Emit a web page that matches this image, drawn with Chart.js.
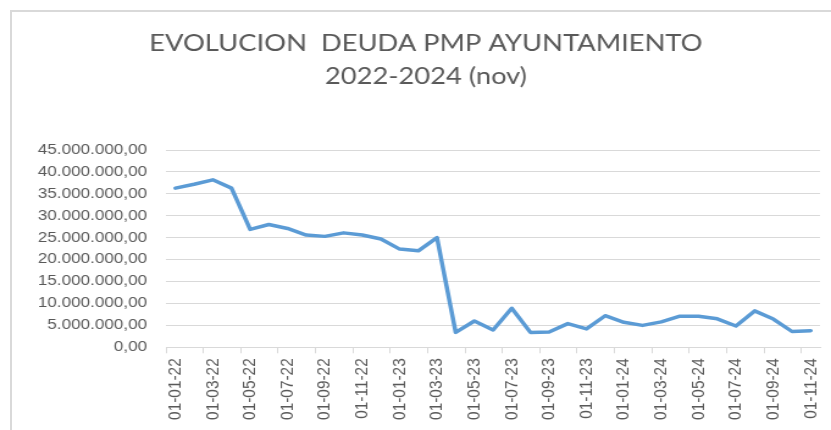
<!DOCTYPE html>
<html>
<head>
<meta charset="utf-8">
<script src="https://cdn.jsdelivr.net/npm/chart.js@4.4.1/dist/chart.umd.min.js"></script>
<style>
  html, body { margin: 0; padding: 0; background: #fff; overflow: hidden; }
  #wrap { position: relative; width: 831px; height: 430px; overflow: hidden; }
  #frame { position: absolute; left: 10px; top: 10px; width: 840px; height: 440px;
           border-top: 2px solid #d9d9d9; border-left: 2px solid #d9d9d9; }
  #myChart { position: absolute; left: 0; top: 0; }
</style>
</head>
<body>
<div id="wrap">
  <div id="frame"></div>
  <!-- the original picture is stretched sideways, so the canvas is drawn narrower and widened by css -->
  <canvas id="myChart" width="681" height="430" style="width:831px;height:430px"></canvas>
</div>
<script>
const titulo = ['EVOLUCION  DEUDA PMP AYUNTAMIENTO', '2022-2024 (nov)'];

const fechas = [
  '01-01-22', '01-02-22', '01-03-22', '01-04-22', '01-05-22', '01-06-22',
  '01-07-22', '01-08-22', '01-09-22', '01-10-22', '01-11-22', '01-12-22',
  '01-01-23', '01-02-23', '01-03-23', '01-04-23', '01-05-23', '01-06-23',
  '01-07-23', '01-08-23', '01-09-23', '01-10-23', '01-11-23', '01-12-23',
  '01-01-24', '01-02-24', '01-03-24', '01-04-24', '01-05-24', '01-06-24',
  '01-07-24', '01-08-24', '01-09-24', '01-10-24', '01-11-24'
];

// deuda en euros
const deuda = [
  36300000, 37200000, 38200000, 36300000, 26900000, 28000000,
  27100000, 25600000, 25300000, 26100000, 25600000, 24700000,
  22400000, 22000000, 25000000, 3400000, 6000000, 3950000,
  8900000, 3400000, 3500000, 5400000, 4200000, 7200000,
  5700000, 5000000, 5800000, 7100000, 7100000, 6500000,
  4850000, 8300000, 6450000, 3600000, 3800000
];

const yMin = 0;
const yMax = 45000000;
const yPaso = 5000000;

function formatoES(v) {
  const [ent, dec] = Number(v).toFixed(2).split('.');
  return ent.replace(/\B(?=(\d{3})+(?!\d))/g, '.') + ',' + dec;
}

const ctx = document.getElementById('myChart').getContext('2d');

const chart = new Chart(ctx, {
  type: 'line',
  data: {
    labels: fechas,
    datasets: [{
      label: 'Deuda PMP',
      data: deuda,
      borderColor: '#5b9bd5',
      borderWidth: 3.5,
      borderCapStyle: 'round',
      borderJoinStyle: 'round',
      pointRadius: 0,
      tension: 0,
      fill: false,
    }],
  },
  options: {
    responsive: false,
    animation: false,
    devicePixelRatio: 1,
    layout: { padding: { left: 26, right: 9, top: 0, bottom: 0 } },
    plugins: {
      legend: { display: false },
      tooltip: { enabled: false },
      title: {
        display: true,
        text: titulo,
        color: '#595959',
        font: { family: 'Lato', size: 22.4, weight: 'normal', lineHeight: '33.4px' },
        padding: { top: 27, bottom: 56.2 },
      },
    },
    scales: {
      x: {
        offset: true,
        grid: {
          offset: true,
          drawOnChartArea: false,
          tickLength: 6,
          color: (c) => (c.index % 2 === 0 ? '#d9d9d9' : 'rgba(0,0,0,0)'),
        },
        border: { display: true, color: '#d9d9d9', width: 1 },
        ticks: {
          autoSkip: false,
          minRotation: 90,
          maxRotation: 90,
          padding: 5,
          color: '#595959',
          font: { family: 'Liberation Sans', size: 15.4 },
          callback: function (value, index) {
            return index % 2 === 0 ? this.getLabelForValue(value) : '';
          },
        },
        afterFit: (scale) => {
          scale.height = 82.7;
          scale.paddingLeft = 0;
          scale.paddingRight = 0;
        },
      },
      y: {
        min: yMin,
        max: yMax,
        ticks: {
          stepSize: yPaso,
          padding: 15.6,
          color: '#595959',
          font: { family: 'Liberation Sans', size: 14 },
          callback: (v) => formatoES(v),
        },
        grid: { color: '#d9d9d9', lineWidth: 1, drawTicks: false },
        border: { display: false },
        afterFit: (scale) => {
          scale.width = 136.1 - 26;
        },
      },
    },
  },
});
</script>
</body>
</html>
